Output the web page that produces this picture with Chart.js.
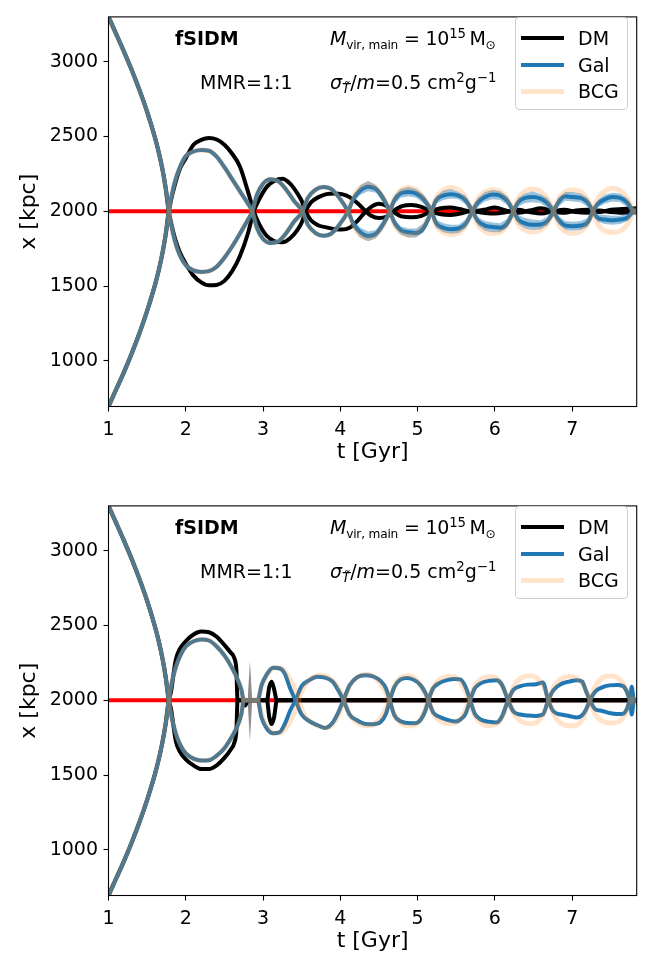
<!DOCTYPE html>
<html>
<head>
<meta charset="utf-8">
<script src="https://cdn.jsdelivr.net/npm/chart.js@4.4.1/dist/chart.umd.min.js"></script>
<style>
  body { margin: 0; background: #fff; font-family: "DejaVu Sans", sans-serif; }
  .panel { position: absolute; left: 0; width: 654px; height: 465px; }
  .panel canvas { position: absolute; left: 0; top: 0; }
  .txt { position: absolute; font-size: 19px; line-height: 22px; white-space: nowrap; color: #000; }
  .txt sub, .txt sup { font-size: 70%; line-height: 0; position: relative; vertical-align: baseline; }
  .txt sup { top: -0.55em; }
  .txt sub { top: 0.3em; }
  .txt sub.sm { font-size: 64%; }
  .legend { position: absolute; left: 515px; top: 17px; width: 111px; height: 91px;
            border: 1px solid #cfcfcf; border-radius: 4px; background: rgba(255,255,255,0.8); }
  .legend .ln { position: absolute; left: 5px; width: 43px; }
  .legend .lb { position: absolute; left: 62px; font-size: 19px; line-height: 22px; }
</style>
</head>
<body>
<div class="panel" id="p1" style="top:0px"><canvas id="c1" width="654" height="465"></canvas></div>
<div class="panel" id="p2" style="top:489px"><canvas id="c2" width="654" height="465"></canvas></div>
<script>
// === Axis ticks ===
const xTicks = [1, 2, 3, 4, 5, 6, 7];
const yTicks = [1000, 1500, 2000, 2500, 3000];
const tRange = [1, 7.835];
const xRange = [695, 3300];

// === Reference line (collision centre) ===
const refT = [1, 7.835];
const refX = [2000, 2000];

// === Infall before first pericentre (all components overlap, both panels) ===
const tIn  = [1.0, 1.1, 1.2, 1.3, 1.4, 1.5, 1.6, 1.65, 1.7, 1.74, 1.78];
const xInA = [3300, 3185, 3068, 2945, 2812, 2665, 2495, 2395, 2275, 2155, 2000];
const xInB = [695, 810, 925, 1050, 1185, 1335, 1505, 1605, 1725, 1845, 2000];

// === Top panel: DM ===
const tDM1 = [1.82, 1.86, 1.92, 2.0, 2.1, 2.2, 2.3, 2.4, 2.5, 2.6, 2.7, 2.8, 2.88,
  2.95, 3.05, 3.15, 3.25, 3.35, 3.45, 3.50, 3.55,
  3.62, 3.72, 3.82, 3.92, 4.02, 4.12, 4.22, 4.33,
  4.40, 4.50, 4.60, 4.68, 4.80, 4.92, 5.05, 5.17, 5.30, 5.42, 5.55, 5.68,
  5.85, 6.0, 6.15, 6.3, 6.45, 6.6, 6.75, 6.9, 7.05, 7.2, 7.35, 7.5, 7.65, 7.84];
const dm1A = [1900, 1820, 1730, 1650, 1570, 1525, 1505, 1508, 1535, 1600, 1700, 1845, 2000,
  2080, 2165, 2205, 2218, 2185, 2115, 2070, 2000,
  1940, 1905, 1893, 1882, 1878, 1890, 1935, 2000,
  2030, 2050, 2035, 2000, 1965, 1960, 1970, 2000, 2020, 2025, 2015, 2000,
  2010, 2025, 2005, 1990, 2005, 2020, 2000, 1990, 2005, 2010, 1995, 2010, 2015, 2020];
const dm1B = [2100, 2180, 2280, 2355, 2445, 2478, 2490, 2480, 2445, 2385, 2300, 2140, 2000,
  1915, 1835, 1800, 1793, 1820, 1880, 1925, 2000,
  2060, 2095, 2115, 2120, 2115, 2095, 2055, 2000,
  1970, 1955, 1965, 2000, 2035, 2042, 2030, 2000, 1980, 1975, 1985, 2000,
  1990, 1985, 1995, 2010, 1995, 1985, 2000, 2010, 1995, 1990, 2005, 1995, 1990, 1995];

// === Top panel: Gal and BCG (same sampling times) ===
const tGal1 = [1.82, 1.86, 1.92, 2.0, 2.1, 2.2, 2.3, 2.4, 2.5, 2.6, 2.7, 2.8, 2.86,
  2.92, 3.0, 3.1, 3.2, 3.3, 3.4, 3.51,
  3.58, 3.68, 3.78, 3.88, 3.98, 4.10,
  4.17, 4.26, 4.36, 4.46, 4.55, 4.64,
  4.70, 4.78, 4.88, 4.98, 5.08, 5.18,
  5.24, 5.33, 5.43, 5.53, 5.62, 5.71,
  5.78, 5.87, 5.97, 6.07, 6.16, 6.24,
  6.30, 6.39, 6.49, 6.59, 6.68, 6.76,
  6.82, 6.91, 7.01, 7.11, 7.20, 7.27,
  7.33, 7.42, 7.52, 7.62, 7.72, 7.79, 7.84];
const gal1A = [1890, 1800, 1710, 1640, 1605, 1595, 1600, 1630, 1690, 1765, 1850, 1940, 2000,
  2110, 2185, 2215, 2200, 2145, 2070, 2000,
  1910, 1855, 1837, 1850, 1905, 2000,
  2085, 2140, 2165, 2150, 2090, 2000,
  1925, 1875, 1860, 1855, 1890, 2000,
  2075, 2105, 2115, 2105, 2075, 2000,
  1935, 1905, 1895, 1890, 1920, 2000,
  2060, 2090, 2095, 2085, 2055, 2000,
  1945, 1905, 1900, 1905, 1925, 2000,
  2050, 2080, 2095, 2090, 2055, 2000, 1995];
const gal1B = [2110, 2200, 2290, 2370, 2400, 2410, 2405, 2365, 2295, 2215, 2135, 2055, 2000,
  1890, 1815, 1788, 1800, 1855, 1930, 2000,
  2090, 2145, 2163, 2150, 2095, 2000,
  1915, 1860, 1835, 1850, 1910, 2000,
  2075, 2120, 2130, 2120, 2080, 2000,
  1920, 1890, 1880, 1885, 1915, 2000,
  2060, 2095, 2112, 2105, 2070, 2000,
  1945, 1920, 1910, 1912, 1935, 2000,
  2060, 2100, 2095, 2090, 2060, 2000,
  1955, 1945, 1940, 1945, 1960, 2000, 2005];
const bcg1A = [1890, 1800, 1710, 1640, 1605, 1595, 1600, 1630, 1690, 1765, 1850, 1940, 2000,
  2110, 2185, 2215, 2200, 2145, 2070, 2000,
  1910, 1855, 1837, 1850, 1905, 2000,
  2100, 2160, 2180, 2160, 2100, 2000,
  1910, 1860, 1840, 1850, 1905, 2000,
  2090, 2140, 2160, 2145, 2095, 2000,
  1910, 1865, 1852, 1860, 1910, 2000,
  2085, 2135, 2150, 2135, 2085, 2000,
  1915, 1865, 1852, 1865, 1915, 2000,
  2085, 2135, 2155, 2140, 2085, 2000, 1985];
const bcg1B = [2110, 2200, 2290, 2370, 2400, 2410, 2405, 2365, 2295, 2215, 2135, 2055, 2000,
  1890, 1815, 1788, 1800, 1855, 1930, 2000,
  2090, 2145, 2163, 2150, 2095, 2000,
  1900, 1840, 1820, 1840, 1900, 2000,
  2090, 2140, 2160, 2145, 2090, 2000,
  1905, 1860, 1845, 1855, 1905, 2000,
  2085, 2130, 2145, 2135, 2085, 2000,
  1915, 1875, 1862, 1875, 1920, 2000,
  2080, 2130, 2145, 2130, 2080, 2000,
  1915, 1870, 1858, 1868, 1915, 2000, 2015];

// Gal scatter band after t = 4.1 (top panel)
const tBand1 = [4.10, 4.17, 4.26, 4.36, 4.46, 4.55, 4.64, 4.70, 4.78, 4.88, 4.98, 5.08, 5.18,
  5.24, 5.33, 5.43, 5.53, 5.62, 5.71, 5.78, 5.87, 5.97, 6.07, 6.16, 6.24,
  6.30, 6.39, 6.49, 6.59, 6.68, 6.76, 6.82, 6.91, 7.01, 7.11, 7.20, 7.27,
  7.33, 7.42, 7.52, 7.62, 7.72, 7.79, 7.84];
const bandHiA = [2020, 2110, 2175, 2205, 2175, 2120, 2030, 1950, 1900, 1885, 1885, 1920, 2030,
  2100, 2140, 2150, 2130, 2105, 2030, 1960, 1935, 1925, 1920, 1950, 2030,
  2090, 2120, 2135, 2115, 2090, 2030, 1970, 1935, 1930, 1935, 1955, 2025,
  2075, 2110, 2125, 2120, 2085, 2025, 2015];
const bandLoA = [1980, 2060, 2110, 2135, 2125, 2060, 1970, 1895, 1845, 1825, 1825, 1860, 1970,
  2050, 2075, 2085, 2080, 2045, 1970, 1905, 1870, 1860, 1860, 1890, 1970,
  2030, 2055, 2060, 2055, 2020, 1970, 1915, 1875, 1870, 1875, 1895, 1975,
  2025, 2050, 2065, 2060, 2025, 1975, 1975];
const bandHiB = [2020, 1940, 1890, 1865, 1875, 1940, 2030, 2105, 2150, 2165, 2150, 2110, 2030,
  1945, 1920, 1910, 1910, 1945, 2030, 2090, 2130, 2145, 2135, 2100, 2030,
  1975, 1955, 1945, 1940, 1965, 2030, 2090, 2130, 2130, 2120, 2090, 2025,
  1980, 1975, 1970, 1970, 1985, 2025, 2025];
const bandLoB = [1980, 1885, 1825, 1800, 1820, 1880, 1970, 2045, 2090, 2100, 2090, 2050, 1970,
  1890, 1860, 1850, 1855, 1885, 1970, 2030, 2065, 2080, 2075, 2040, 1970,
  1915, 1885, 1875, 1880, 1905, 1970, 2030, 2070, 2065, 2060, 2030, 1975,
  1930, 1915, 1910, 1915, 1935, 1975, 1985];

// === Bottom panel: DM ===
const tDM2 = [1.81, 1.84, 1.87, 1.92, 2.0, 2.1, 2.2, 2.3, 2.4, 2.5, 2.58, 2.63, 2.655, 2.67,
  2.72, 2.77, 2.80, 2.90, 3.0, 3.05, 3.08, 3.11, 3.14, 3.18, 3.3, 4.0, 5.0, 6.0, 7.0, 7.84];
const dm2A = [1940, 1830, 1730, 1660, 1605, 1565, 1540, 1540, 1565, 1615, 1670, 1720, 1800, 2000,
  2000, 1965, 2000, 2000, 2000, 2000, 1890, 1841, 1880, 2000, 2000, 2000, 2000, 2000, 2000, 2000];
const dm2B = [2060, 2170, 2270, 2340, 2395, 2440, 2460, 2455, 2425, 2370, 2320, 2280, 2200, 2000,
  2000, 2000, 2000, 2000, 2000, 2000, 2090, 2124, 2080, 2000, 2000, 2000, 2000, 2000, 2000, 2000];
// thin DM scatter spike near t = 2.83
const tDMBand2 = [2.80, 2.83, 2.86];
const dmBandHi2 = [2000, 2260, 2000];
const dmBandLo2 = [2000, 1730, 2000];

// === Bottom panel: Gal ===
const tGal2 = [1.82, 1.87, 1.93, 2.0, 2.1, 2.2, 2.3, 2.4, 2.5, 2.6, 2.67, 2.72, 2.75,
  2.80, 2.87, 2.93,
  2.98, 3.05, 3.13, 3.21, 3.28, 3.35, 3.42,
  3.50, 3.60, 3.70, 3.80, 3.90, 3.97, 4.04,
  4.12, 4.22, 4.32, 4.42, 4.52, 4.59, 4.64,
  4.70, 4.78, 4.87, 4.96, 5.04, 5.10, 5.14,
  5.20, 5.28, 5.38, 5.48, 5.55, 5.62, 5.68,
  5.74, 5.82, 5.92, 6.02, 6.09, 6.17,
  6.24, 6.33, 6.43, 6.53, 6.62, 6.69,
  6.76, 6.86, 6.96, 7.06, 7.13, 7.18, 7.23,
  7.30, 7.38, 7.48, 7.58, 7.66, 7.71, 7.75,
  7.77, 7.80, 7.84];
const gal2A = [1880, 1780, 1700, 1645, 1610, 1598, 1600, 1630, 1680, 1760, 1830, 1910, 2000,
  2000, 2000, 2000,
  2100, 2175, 2218, 2215, 2180, 2080, 2000,
  1905, 1860, 1835, 1815, 1850, 1915, 2000,
  2100, 2155, 2168, 2160, 2130, 2080, 2000,
  1900, 1860, 1848, 1846, 1870, 1930, 2000,
  2080, 2115, 2135, 2143, 2140, 2090, 2000,
  1910, 1870, 1857, 1852, 1890, 2000,
  2070, 2095, 2105, 2108, 2120, 2000,
  1925, 1905, 1895, 1885, 1900, 1940, 2000,
  2060, 2085, 2100, 2102, 2095, 2055, 2000,
  2090, 2000, 2005];
const gal2B = [2120, 2220, 2300, 2360, 2395, 2407, 2400, 2360, 2300, 2215, 2140, 2070, 2000,
  2000, 2000, 2000,
  1885, 1810, 1780, 1785, 1840, 1930, 2000,
  2095, 2135, 2157, 2152, 2125, 2070, 2000,
  1905, 1865, 1842, 1840, 1855, 1910, 2000,
  2090, 2140, 2150, 2135, 2100, 2050, 2000,
  1920, 1890, 1870, 1858, 1870, 1910, 2000,
  2080, 2115, 2130, 2135, 2105, 2000,
  1925, 1905, 1898, 1896, 1905, 2000,
  2070, 2110, 2125, 2135, 2125, 2060, 2000,
  1940, 1930, 1915, 1908, 1910, 1945, 2000,
  1905, 2000, 1995];

// === Bottom panel: BCG ===
const tBCG2 = [1.82, 1.87, 1.93, 2.0, 2.1, 2.2, 2.3, 2.4, 2.5, 2.6, 2.67, 2.72, 2.75,
  2.80, 2.87, 2.93,
  2.99, 3.07, 3.15, 3.23, 3.31, 3.39, 3.46,
  3.53, 3.63, 3.73, 3.83, 3.93, 4.00, 4.05,
  4.12, 4.22, 4.32, 4.42, 4.51, 4.58, 4.63,
  4.70, 4.79, 4.88, 4.97, 5.05, 5.14,
  5.21, 5.30, 5.40, 5.49, 5.58, 5.67,
  5.74, 5.83, 5.93, 6.02, 6.10, 6.18,
  6.25, 6.34, 6.44, 6.53, 6.62, 6.70,
  6.77, 6.86, 6.96, 7.06, 7.15, 7.23,
  7.30, 7.39, 7.49, 7.59, 7.68, 7.76, 7.84];
const bcg2A = [1880, 1780, 1700, 1645, 1610, 1598, 1600, 1630, 1680, 1760, 1830, 1910, 2000,
  2000, 2000, 2000,
  2110, 2185, 2220, 2215, 2175, 2100, 2000,
  1905, 1850, 1825, 1815, 1860, 1930, 2000,
  2095, 2155, 2175, 2165, 2120, 2060, 2000,
  1900, 1845, 1830, 1835, 1885, 2000,
  2095, 2145, 2160, 2155, 2100, 2000,
  1900, 1845, 1830, 1840, 1895, 2000,
  2100, 2150, 2165, 2155, 2100, 2000,
  1900, 1845, 1830, 1835, 1890, 2000,
  2095, 2150, 2162, 2150, 2095, 2000, 1975];
const bcg2B = [2120, 2220, 2300, 2360, 2395, 2407, 2400, 2360, 2300, 2215, 2140, 2070, 2000,
  2000, 2000, 2000,
  1890, 1810, 1780, 1785, 1825, 1900, 2000,
  2090, 2150, 2170, 2160, 2115, 2060, 2000,
  1905, 1850, 1830, 1835, 1875, 1935, 2000,
  2100, 2155, 2165, 2145, 2090, 2000,
  1905, 1860, 1845, 1850, 1895, 2000,
  2095, 2145, 2160, 2150, 2095, 2000,
  1905, 1860, 1845, 1850, 1900, 2000,
  2095, 2145, 2160, 2150, 2095, 2000,
  1905, 1860, 1848, 1855, 1900, 2000, 2025];

// === Styles ===
const colDM = '#000000';
const colGal = '#1f77b4';
const colGalBand = 'rgba(31,119,180,0.45)';
const colBCG = 'rgba(255,127,14,0.22)';
const colRef = '#ff0000';
const FONT = '"DejaVu Sans", sans-serif';

// === Helpers ===
const pts = (ts, xs) => ts.map((t, i) => ({ x: t, y: xs[i] }));

function line(label, ts, xs, color, width, order) {
  return {
    label, data: pts(ts, xs), borderColor: color, backgroundColor: color,
    borderWidth: width, pointRadius: 0, fill: false, order, clip: 0,
    cubicInterpolationMode: 'monotone', borderJoinStyle: 'round'
  };
}

function track(label, tLoop, loopA, loopB, color, width, order) {
  return [
    line(label + ' A', tIn.concat(tLoop), xInA.concat(loopA), color, width, order),
    line(label + ' B', tIn.concat(tLoop), xInB.concat(loopB), color, width, order)
  ];
}

// shaded band: invisible lower edge, upper edge filled down to it
function band(label, ts, lo, hi, color, order) {
  const a = line(label + ' lo', ts, lo, 'rgba(0,0,0,0)', 0, order);
  const b = line(label + ' hi', ts, hi, 'rgba(0,0,0,0)', 0, order);
  a.cubicInterpolationMode = b.cubicInterpolationMode = 'default';
  a.tension = b.tension = 0;
  b.fill = '-1';
  b.backgroundColor = color;
  return [a, b];
}

// spines on all four sides, like matplotlib
const framePlugin = {
  id: 'frame',
  afterDatasetsDraw(chart) {
    const { ctx, chartArea: a } = chart;
    ctx.save();
    ctx.strokeStyle = '#000';
    ctx.lineWidth = 1.1;
    ctx.strokeRect(a.left, a.top, a.right - a.left, a.bottom - a.top);
    ctx.restore();
  }
};

function makeChart(id, datasets) {
  return new Chart(document.getElementById(id).getContext('2d'), {
    type: 'line',
    data: { datasets },
    options: {
      responsive: false,
      animation: false,
      events: [],
      layout: { padding: { left: 0, right: 17.3, top: 7.7, bottom: 0 } },
      plugins: { legend: { display: false }, tooltip: { enabled: false } },
      scales: {
        x: {
          type: 'linear', min: tRange[0], max: tRange[1],
          afterBuildTicks: s => { s.ticks = xTicks.map(v => ({ value: v })); },
          afterFit: s => { s.height = 58.5; },
          ticks: { font: { family: FONT, size: 19 }, color: '#000', padding: 7, maxRotation: 0,
                   callback: v => String(v) },
          grid: { drawOnChartArea: false, drawTicks: true, tickLength: 5, tickColor: '#000', tickWidth: 1.1 },
          border: { display: false },
          title: { display: true, text: 't [Gyr]', color: '#000', font: { family: FONT, size: 22 },
                   padding: { top: 0, bottom: 0 } }
        },
        y: {
          type: 'linear', min: xRange[0], max: xRange[1],
          afterBuildTicks: s => { s.ticks = yTicks.map(v => ({ value: v })); },
          afterFit: s => { s.width = 108.5; },
          ticks: { font: { family: FONT, size: 19 }, color: '#000', padding: 5.5,
                   callback: v => String(v) },
          grid: { drawOnChartArea: false, drawTicks: true, tickLength: 5, tickColor: '#000', tickWidth: 1.1 },
          border: { display: false },
          title: { display: true, text: 'x [kpc]', color: '#000', font: { family: FONT, size: 22 },
                   padding: { top: 15.8, bottom: 0 } }
        }
      }
    },
    plugins: [framePlugin]
  });
}

// === Top panel ===
const set1 = [
  ...track('BCG', tGal1, bcg1A, bcg1B, colBCG, 5, 1),
  ...track('Gal', tGal1, gal1A, gal1B, colGal, 4, 2),
  ...band('Gal A band', tBand1, bandLoA, bandHiA, colGalBand, 3),
  ...band('Gal B band', tBand1, bandLoB, bandHiB, colGalBand, 3),
  ...track('DM', tDM1, dm1A, dm1B, colDM, 4, 4),
  line('ref', refT, refX, colRef, 4, 5)
];
makeChart('c1', set1);

// === Bottom panel ===
const set2 = [
  ...track('BCG', tBCG2, bcg2A, bcg2B, colBCG, 5, 1),
  ...track('Gal', tGal2, gal2A, gal2B, colGal, 4, 2),
  ...band('DM band', tDMBand2, dmBandLo2, dmBandHi2, 'rgba(0,0,0,0.45)', 3),
  ...track('DM', tDM2, dm2A, dm2B, colDM, 4, 4),
  line('ref', refT, refX, colRef, 4, 5)
];
makeChart('c2', set2);

// === Annotations and legend (HTML text over the canvas) ===
function addOverlay(panelId) {
  const p = document.getElementById(panelId);
  p.insertAdjacentHTML('beforeend', `
    <div class="txt" style="left:175px;top:27px;font-weight:bold">fSIDM</div>
    <div class="txt" style="left:200px;top:71px">MMR=1:1</div>
    <div class="txt" style="left:330px;top:27px;letter-spacing:-0.2px"><i>M</i><sub class="sm">vir, main</sub> = 10<sup>15</sup>&thinsp;M<sub class="sm">⊙</sub></div>
    <div class="txt" style="left:330px;top:71px"><i>σ</i><sub><i>T̃</i></sub>/<i>m</i>=0.5 cm<sup>2</sup>g<sup>−1</sup></div>
    <div class="legend">
      <div class="ln" style="top:18px;height:4px;background:${colDM}"></div>
      <div class="lb" style="top:9px">DM</div>
      <div class="ln" style="top:45px;height:4px;background:${colGal}"></div>
      <div class="lb" style="top:36px">Gal</div>
      <div class="ln" style="top:71px;height:5px;background:${colBCG}"></div>
      <div class="lb" style="top:62px">BCG</div>
    </div>`);
}
addOverlay('p1');
addOverlay('p2');
</script>
</body>
</html>
